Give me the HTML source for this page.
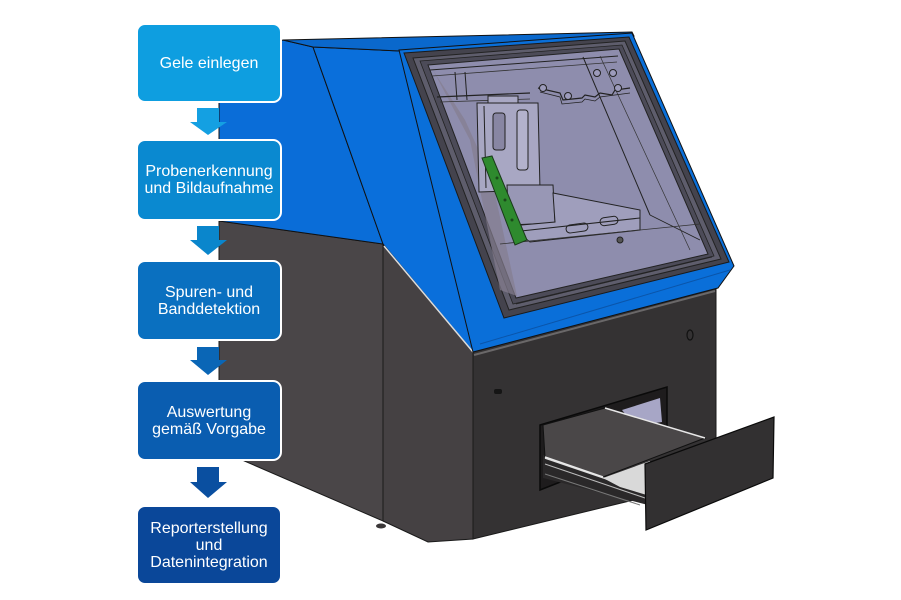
<!DOCTYPE html>
<html>
<head>
<meta charset="utf-8">
<style>
  html,body{margin:0;padding:0;background:#fff;}
  #wrap{position:relative;width:901px;height:600px;overflow:hidden;background:#fff;}
  svg{position:absolute;left:0;top:0;}
  .box{position:absolute;left:136px;width:146px;box-sizing:border-box;border:2px solid #fff;border-radius:9px;
       color:#fff;font-family:"Liberation Sans",Arial,sans-serif;font-size:16px;line-height:17px;
       display:flex;align-items:center;justify-content:center;text-align:center;}
</style>
</head>
<body>
<div id="wrap">
<svg width="901" height="600" viewBox="0 0 901 600" xmlns="http://www.w3.org/2000/svg">
  <!-- lower body left face -->
  <polygon points="219,221 383,244 383,521 219,450" fill="#4a4648" stroke="#1a1a1a" stroke-width="1"/>
  <!-- angled face -->
  <polygon points="383,244 473,352 473,539 428,542 383,521" fill="#454143" stroke="#1a1a1a" stroke-width="1"/>
  <ellipse cx="381" cy="526" rx="5" ry="2.5" fill="#3a3738"/>
  <!-- front face -->
  <polygon points="473,352 716,288 716,440 646,497 473,539" fill="#343233" stroke="#1a1a1a" stroke-width="1"/>
  <line x1="474" y1="355" x2="715" y2="291" stroke="#6a6869" stroke-width="2"/>
  <ellipse cx="690" cy="335" rx="3" ry="5" fill="none" stroke="#111" stroke-width="1.2"/>
  <rect x="494" y="389" width="8" height="5" rx="2" fill="#151515"/>

  <!-- blue left face -->
  <polygon points="219,60 283,40 313,47 383,244 219,221" fill="#0a6dd8" stroke="#111" stroke-width="1"/>
  <!-- blue hood side face -->
  <polygon points="313,47 400,51 503,318 473,352 383,244" fill="#0a6fdb" stroke="#111" stroke-width="1"/>
  <line x1="384" y1="246" x2="473" y2="352" stroke="#dcdcdc" stroke-width="1.5"/>
  <!-- top strip -->
  <polygon points="283,40 632,32 634,36 400,51 313,47" fill="#0a68cc" stroke="#111" stroke-width="1"/>
  <!-- hood front -->
  <polygon points="399,50 632,33 734,266 718,288 473,352" fill="#0a6fd9" stroke="#111" stroke-width="1"/>
  <!-- window frame -->
  <polygon points="404,53 629,37 729,262 504,318" fill="#44434d" stroke="#1a1a1a" stroke-width="1"/>
  <polygon points="413,58 625,41 721,259 509,310" fill="#5e5d6c" stroke="#222" stroke-width="1"/>
  <polygon points="420,61 622,45 714,256 513,304" fill="#4c4b58" stroke="#222" stroke-width="0.8"/>
  <!-- glass -->
  <polygon points="428,65 619,49 708,254 516,298" fill="#8e8dad" stroke="#222" stroke-width="1"/>
  <!-- interior -->
  <polygon points="433,70 470,140 488,230 500,290 517,296 492,180 465,120" fill="#857d8f" opacity="0.7"/>
  <line x1="430" y1="70" x2="618" y2="56" stroke="#222" stroke-width="1"/>
  <line x1="432" y1="76" x2="617" y2="62" stroke="#333" stroke-width="0.8"/>
  <line x1="437" y1="97" x2="530" y2="93" stroke="#222" stroke-width="1.2"/>
  <line x1="440" y1="102" x2="530" y2="99" stroke="#333" stroke-width="0.8"/>
  <line x1="583" y1="57" x2="650" y2="215" stroke="#222" stroke-width="1"/>
  <line x1="650" y1="215" x2="700" y2="240" stroke="#222" stroke-width="0.8"/>
  <line x1="600" y1="56" x2="690" y2="250" stroke="#333" stroke-width="0.7"/>
  <line x1="455" y1="72" x2="457" y2="100" stroke="#222" stroke-width="1"/>
  <line x1="465" y1="72" x2="467" y2="100" stroke="#222" stroke-width="1"/>
  <!-- bracket -->
  <polyline points="538,88 560,93 563,100 582,98 585,95 595,97 600,93 612,95 615,90 630,88" fill="none" stroke="#222" stroke-width="1.2"/>
  <polyline points="540,92 560,97 562,104 582,102 585,99 595,101 600,97 630,93" fill="none" stroke="#222" stroke-width="0.8"/>
  <circle cx="543" cy="88" r="3.5" fill="#9c9bbb" stroke="#222" stroke-width="1"/>
  <circle cx="568" cy="96" r="3.5" fill="#9c9bbb" stroke="#222" stroke-width="1"/>
  <circle cx="597" cy="73" r="3.5" fill="#9c9bbb" stroke="#222" stroke-width="1"/>
  <circle cx="613" cy="73" r="3.5" fill="#9c9bbb" stroke="#222" stroke-width="1"/>
  <circle cx="618" cy="88" r="3.5" fill="#9c9bbb" stroke="#222" stroke-width="1"/>
  <!-- carriage plate -->
  <rect x="488" y="96" width="30" height="8" fill="#a9a8c4" stroke="#222" stroke-width="1"/>
  <polygon points="477,103 538,103 540,190 479,192" fill="#a8a7c3" stroke="#222" stroke-width="1"/>
  <rect x="493" y="113" width="12" height="37" rx="3" fill="#8886a3" stroke="#222" stroke-width="1"/>
  <rect x="517" y="110" width="11" height="60" rx="3" fill="#b3b2cc" stroke="#222" stroke-width="1"/>
  <line x1="484" y1="106" x2="486" y2="188" stroke="#222" stroke-width="1"/>
  <!-- tray/platform -->
  <polygon points="507,185 553,185 555,223 509,225" fill="#9897b5" stroke="#222" stroke-width="1"/>
  <polygon points="553,193 640,210 640,230 530,242 510,226 555,222" fill="#9f9ebc" stroke="#222" stroke-width="1"/>
  <line x1="512" y1="232" x2="640" y2="218" stroke="#222" stroke-width="1"/>
  <rect x="566" y="224" width="22" height="8" rx="4" fill="none" stroke="#222" stroke-width="1" transform="rotate(-8 577 228)"/>
  <rect x="600" y="217" width="18" height="8" rx="4" fill="none" stroke="#222" stroke-width="1" transform="rotate(-8 609 221)"/>
  <circle cx="620" cy="240" r="3" fill="#555" stroke="#222"/>
  <line x1="500" y1="244" x2="700" y2="224" stroke="#333" stroke-width="0.8"/>
  <!-- green arm -->
  <polygon points="482,158 492,156 527,240 515,245" fill="#2e8a2e" stroke="#1a3a1a" stroke-width="1"/>
  <circle cx="497" cy="178" r="1.5" fill="#1a4a1a"/>
  <circle cx="505" cy="200" r="1.5" fill="#1a4a1a"/>
  <circle cx="512" cy="220" r="1.5" fill="#1a4a1a"/>
  <!-- frame bottom lines -->
  <line x1="516" y1="304" x2="712" y2="257" stroke="#222" stroke-width="0.8"/>
  <line x1="480" y1="344" x2="730" y2="270" stroke="#0a55aa" stroke-width="1"/>

  <!-- drawer opening -->
  <polygon points="540,425 667,387 667,440 540,490" fill="#1e1c1d" stroke="#0a0a0a" stroke-width="1.5"/>
  <polygon points="622,410 660,398 662,422 635,426" fill="#a7a6c6"/>
  <!-- rails -->
  <polygon points="543,455 648,490 648,505 543,478" fill="#2a2829"/>
  <line x1="545" y1="458" x2="648" y2="493" stroke="#e0e0e0" stroke-width="1.5"/>
  <line x1="545" y1="464" x2="648" y2="499" stroke="#bbb" stroke-width="1"/>
  <line x1="545" y1="474" x2="640" y2="505" stroke="#777" stroke-width="1"/>
  <!-- tray surface -->
  <polygon points="543,425 605,408 705,438 603,477 545,457" fill="#4a4748" stroke="#111" stroke-width="1"/>
  <line x1="605" y1="408" x2="705" y2="438" stroke="#e8e8e8" stroke-width="1.5"/>
  <line x1="545" y1="457" x2="603" y2="477" stroke="#e8e8e8" stroke-width="1.5"/>
  <polygon points="603,478 650,461 650,496 620,487" fill="#d9d9d9"/>
  <!-- drawer front -->
  <polygon points="645,464 774,417 773,478 646,530" fill="#323031" stroke="#0a0a0a" stroke-width="1.2"/>

  <!-- arrows -->
  <polygon points="197,108 219,108 219,122 227,122 208,135 190,122 197,122" fill="#14a0e2"/>
  <polygon points="197,226 219,226 219,240 227,240 208,255 190,240 197,240" fill="#0a86cc"/>
  <polygon points="197,347 219,347 219,360 227,360 208,375 190,360 197,360" fill="#0a66b6"/>
  <polygon points="197,467 219,467 219,482 227,482 208,498 190,482 197,482" fill="#0a4fa0"/>
</svg>

<div class="box" style="top:23px;height:80px;background:#0e9ee0;">Gele einlegen</div>
<div class="box" style="top:139px;height:82px;background:#0a89d0;">Probenerkennung<br>und Bildaufnahme</div>
<div class="box" style="top:260px;height:81px;background:#0a70c0;">Spuren- und<br>Banddetektion</div>
<div class="box" style="top:380px;height:81px;background:#0a5db0;">Auswertung<br>gemäß Vorgabe</div>
<div class="box" style="top:505px;height:80px;background:#0a4799;">Reporterstellung<br>und<br>Datenintegration</div>
</div>
</body>
</html>
